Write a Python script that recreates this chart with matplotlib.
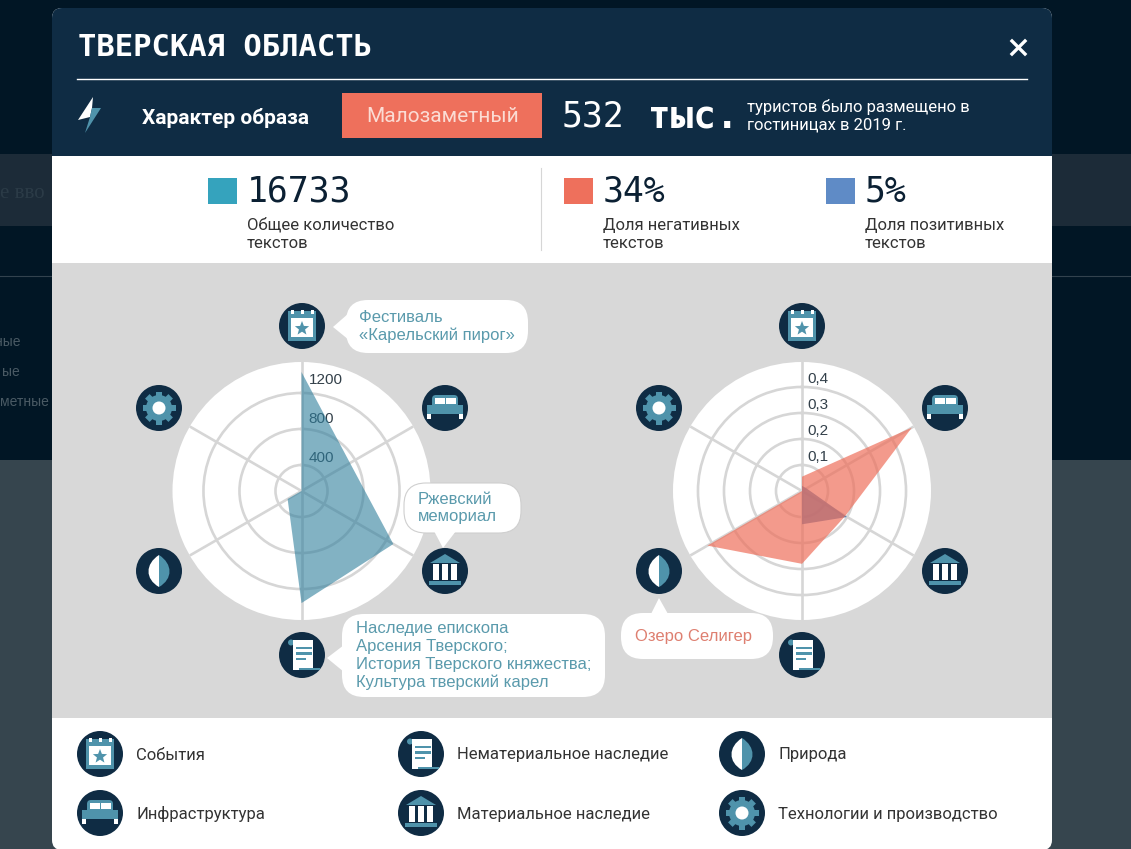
import numpy as np
import matplotlib
matplotlib.use('Agg')
from matplotlib import pyplot as plt
from matplotlib.patches import Circle, Rectangle, Polygon, FancyBboxPatch, PathPatch
from matplotlib.path import Path
from matplotlib.transforms import Affine2D

# dados
categorias = ['События', 'Инфраструктура', 'Материальное наследие',
              'Нематериальное наследие', 'Природа', 'Технологии и производство']
angulos = [0, 60, 120, 180, 240, 300]
textos = [1433, 733, 1289, 1356, 289, 111]
negativos = [0.055, 0.488, 0.192, 0.28, 0.42, 0.0]
positivos = [0.02, 0.02, 0.2, 0.128, 0.0, 0.0]
ticks_textos = [400, 800, 1200]
ticks_tom = [0.1, 0.2, 0.3, 0.4]
rotulos_tom = ['0,1', '0,2', '0,3', '0,4']

W, H = 1131, 849
NAVY = '#0f2c44'
TEAL = '#4f93ab'
SALMON = '#ee705c'
GRADE = '#d6d6d6'
SANS = 'Liberation Sans'
GROT = 'Roboto'
MONO = 'DejaVu Sans Mono'

fig = plt.figure(figsize=(W / 100, H / 100), dpi=100, facecolor='#011625')


def eixo_px(z):
    ax = fig.add_axes([0, 0, 1, 1], zorder=z)
    ax.set_xlim(0, W)
    ax.set_ylim(H, 0)
    ax.axis('off')
    return ax


fundo = eixo_px(0)
ov = eixo_px(5)

# fundo da pagina atras do modal
fundo.add_patch(Rectangle((0, 154), W, 72, color='#1c2b38', lw=0, zorder=0.2))
fundo.add_patch(Rectangle((0, 460), W, 389, color='#36454e', lw=0, zorder=0.2))
fundo.plot([0, W], [276, 276], color='#32424e', lw=0.8, zorder=0.3)
fundo.text(0, 193, 'е вво', color='#2b3b47', fontsize=15, family='Liberation Serif', va='center', zorder=0.3)
for y, s, x in zip([342, 372, 402], ['ные', 'ые', 'метные'], [21, 20, 49]):
    fundo.text(x, y, s, color='#4a5a64', fontsize=10, family=SANS, va='center', ha='right', zorder=0.3)

# modal
fundo.add_patch(FancyBboxPatch((52, 8), 1000, 842, boxstyle='round,pad=0,rounding_size=10',
                               fc='white', ec='none', zorder=1))
fundo.add_patch(FancyBboxPatch((52, 8), 1000, 60, boxstyle='round,pad=0,rounding_size=10',
                               fc=NAVY, ec='none', zorder=1.1))
fundo.add_patch(Rectangle((52, 30), 1000, 126, color=NAVY, lw=0, zorder=1.1))
fundo.add_patch(Rectangle((52, 263), 1000, 455, color='#d8d8d8', lw=0, zorder=1.1))

# cabecalho
ov.text(78, 47, 'ТВЕРСКАЯ ОБЛАСТЬ', color='white', fontsize=22, family=MONO, weight='bold', va='center')
ov.plot([77, 1027], [79, 79], color='white', lw=1)
ov.plot([1012, 1025], [41, 54], color='white', lw=2.4)
ov.plot([1025, 1012], [41, 54], color='white', lw=2.4)
ov.add_patch(Polygon([(93, 97), (78, 120), (90, 117), (92, 108)], color='white', lw=0))
ov.add_patch(Polygon([(92, 108), (101, 108), (85, 133), (90, 117)], color='#4f93ab', lw=0))
ov.text(142, 118, 'Характер образа', color='white', fontsize=15, family=GROT, weight='bold', va='center')
ov.add_patch(Rectangle((342, 93), 200, 45, color=SALMON, lw=0))
ov.text(443, 116, 'Малозаметный', color='#fbdcd4', fontsize=15, family=GROT, ha='center', va='center')
ov.text(562, 116, '532', color='white', fontsize=25, family=MONO, va='center')
ov.text(648, 118, 'тыс.', color='white', fontsize=27, family=MONO, weight='bold', va='center')
ov.text(747, 107, 'туристов было размещено в', color='white', fontsize=12, family=GROT, va='center')
ov.text(747, 125, 'гостиницах в 2019 г.', color='white', fontsize=12, family=GROT, va='center')

# numeros
ov.plot([541, 541], [168, 250], color=GRADE, lw=0.8)
for x, cor, num, l1, l2 in [(208, '#35a3bd', '16733', 'Общее количество', 'текстов'),
                            (564, SALMON, '34%', 'Доля негативных', 'текстов'),
                            (826, '#5f8bc6', '5%', 'Доля позитивных', 'текстов')]:
    ov.add_patch(Rectangle((x, 178), 29, 26, color=cor, lw=0))
    ov.text(x + 39, 191, num, color='#0b2033', fontsize=25, family=MONO, va='center')
    ov.text(x + 39, 225, l1, color='#333333', fontsize=12, family=GROT, va='center')
    ov.text(x + 39, 243, l2, color='#333333', fontsize=12, family=GROT, va='center')


def radar(cx, cy, rmin, rmax, ticks):
    R = 129
    ax = fig.add_axes([(cx - R) / W, 1 - (cy + R) / H, 2 * R / W, 2 * R / H],
                      projection='polar', zorder=2)
    ax.set_theta_zero_location('N')
    ax.set_theta_direction(-1)
    ax.set_thetagrids(angulos, labels=[])
    ax.set_rlim(rmin, rmax)
    ax.set_rticks(ticks)
    ax.set_yticklabels([])
    ax.grid(True, color=GRADE, lw=1.9)
    ax.set_axisbelow(True)
    ax.spines['polar'].set_visible(False)
    ax.set_facecolor('white')
    ax.tick_params(length=0)
    return ax


th = np.deg2rad(angulos + angulos[:1])

esq = radar(301.5, 491, 111, 1544, ticks_textos)
for t, dy in zip(ticks_textos, [7, 10, 13]):
    esq.annotate(str(t), xy=(0, t), xytext=(7, dy), textcoords='offset pixels', color='#33404a',
                 fontsize=11, family=SANS, va='center', zorder=2)
esq.fill(th, textos + textos[:1], color='#2f7f9c', alpha=0.6, lw=0, zorder=3)

dir_ = radar(802, 491, 0, 0.496, ticks_tom)
for t, s in zip(ticks_tom, rotulos_tom):
    dir_.annotate(s, xy=(0, t), xytext=(5, 8), textcoords='offset pixels', color='#33404a',
                  fontsize=11, family=SANS, va='center', zorder=2)
dir_.fill(th, positivos + positivos[:1], color='#3d6aa8', alpha=0.8, lw=0, zorder=3)
dir_.fill(th, negativos + negativos[:1], color=SALMON, alpha=0.7, lw=0, zorder=4)


# icones
def p(ax, patch, cx, cy):
    patch.set_transform(Affine2D().translate(cx, cy) + ax.transData)
    ax.add_patch(patch)


def ret(x0, y0, x1, y1, cor):
    return Rectangle((x0, y0), x1 - x0, y1 - y0, color=cor, lw=0)


def icone(ax, tipo, cx, cy):
    ax.add_patch(Circle((cx, cy), 23, color=NAVY, lw=0))
    if tipo == 'cal':
        p(ax, ret(-14, -15, 14, 15, TEAL), cx, cy)
        p(ax, ret(-11, -8, 11, 11, 'white'), cx, cy)
        for dx in [-10, 0, 10]:
            p(ax, ret(dx - 1.5, -16, dx + 1.5, -12, 'white'), cx, cy)
        a = np.deg2rad(np.arange(0, 360, 36) - 90)
        r = np.array([7.5, 3.2] * 5)
        p(ax, Polygon(np.c_[r * np.cos(a), 2.5 + r * np.sin(a)], color=TEAL, lw=0), cx, cy)
    elif tipo == 'cama':
        p(ax, FancyBboxPatch((-13, -13), 26, 14, boxstyle='round,pad=0,rounding_size=4',
                             fc=TEAL, ec='none'), cx, cy)
        p(ax, ret(-18, -3, 18, 6, TEAL), cx, cy)
        p(ax, ret(-10.5, -10, -0.5, -4, 'white'), cx, cy)
        p(ax, ret(1, -10, 11, -4, 'white'), cx, cy)
        p(ax, ret(-18, 6, -14, 11, 'white'), cx, cy)
        p(ax, ret(14, 6, 18, 11, 'white'), cx, cy)
    elif tipo == 'templo':
        p(ax, Polygon([(0, -17), (-15, -8), (15, -8)], color=TEAL, lw=0), cx, cy)
        for dx in [-9, 0, 9]:
            p(ax, ret(dx - 2.8, -7, dx + 2.8, 9, 'white'), cx, cy)
        p(ax, ret(-16, 9.5, 16, 14, TEAL), cx, cy)
    elif tipo == 'rolo':
        p(ax, Circle((-11, -12.5), 3, color=TEAL, lw=0), cx, cy)
        p(ax, ret(-9, -15, 11, 13, 'white'), cx, cy)
        p(ax, ret(-3, 12.5, 18, 15, TEAL), cx, cy)
        p(ax, ret(-9, 12, -3, 15, 'white'), cx, cy)
        p(ax, ret(-6, -8.5, 9.5, -6, TEAL), cx, cy)
        p(ax, ret(-6, -3, 9.5, -0.5, TEAL), cx, cy)
        p(ax, ret(-6, 2.5, 4, 5, TEAL), cx, cy)
    elif tipo == 'folha':
        verts = [(0, -16), (-14, -7), (-14, 8), (0, 16)]
        cods = [Path.MOVETO, Path.CURVE4, Path.CURVE4, Path.CURVE4]
        p(ax, PathPatch(Path(verts, cods), fc='white', ec='none'), cx, cy)
        verts = [(0, -16), (14, -7), (14, 8), (0, 16)]
        p(ax, PathPatch(Path(verts, cods), fc=TEAL, ec='none'), cx, cy)
    else:
        for a in range(0, 180, 45):
            dente = ret(-16.5, -3.2, 16.5, 3.2, TEAL)
            dente.set_transform(Affine2D().rotate_deg(a).translate(cx, cy) + ax.transData)
            ax.add_patch(dente)
        ax.add_patch(Circle((cx, cy), 13, color=TEAL, lw=0))
        ax.add_patch(Circle((cx, cy), 6.5, color='white', lw=0))


tipos = ['cal', 'cama', 'templo', 'rolo', 'folha', 'eng']
for cx0 in [302, 802]:
    for tipo, dx, y in zip(tipos, [0, 143, 143, 0, -143, -143], [326, 408, 571, 655, 571, 408]):
        icone(ov, tipo, cx0 + dx, y)

# legenda
for tipo, nome, x, y in zip(['cal', 'cama', 'rolo', 'templo', 'folha', 'eng'],
                            [categorias[0], categorias[1], categorias[3], categorias[2], categorias[4], categorias[5]],
                            [100, 100, 421, 421, 742, 742], [754, 813, 754, 813, 754, 813]):
    icone(ov, tipo, x, y)
    ov.text(x + 36, y + 1, nome, color='#333333', fontsize=12, family=GROT, va='center')


# baloes
def balao(x0, y0, x1, y1, cauda, linhas, x_txt, ys, cor, borda='none'):
    ov.add_patch(FancyBboxPatch((x0, y0), x1 - x0, y1 - y0, fc='white', ec=borda, lw=0.8,
                                boxstyle='round,pad=0,rounding_size=22'))
    ov.add_patch(Polygon(cauda, color='white', lw=0))
    for s, y in zip(linhas, ys):
        ov.text(x_txt, y, s, color=cor, fontsize=12, family=SANS, va='center')


AZ = '#5a9aac'
balao(346, 300, 528, 353, [(333, 327), (349, 313), (349, 340)],
      ['Фестиваль', '«Карельский пирог»'], 359, [317, 335], AZ)
balao(404, 483, 521, 533, [(443, 548), (434, 531), (456, 531)],
      ['Ржевский', 'мемориал'], 418, [499, 517], AZ, borda='#cfcfcf')
balao(342, 614, 605, 697, [(327, 658), (344, 645), (344, 672)],
      ['Наследие епископа', 'Арсения Тверского;', 'История Тверского княжества;', 'Культура тверский карел'],
      356, [629, 646, 664, 682], AZ)
balao(621, 613, 773, 659, [(659, 598), (651, 614), (668, 614)],
      ['Озеро Селигер'], 635, [637], '#de7f70')

fig.savefig('out.png', dpi=100, facecolor=fig.get_facecolor())
